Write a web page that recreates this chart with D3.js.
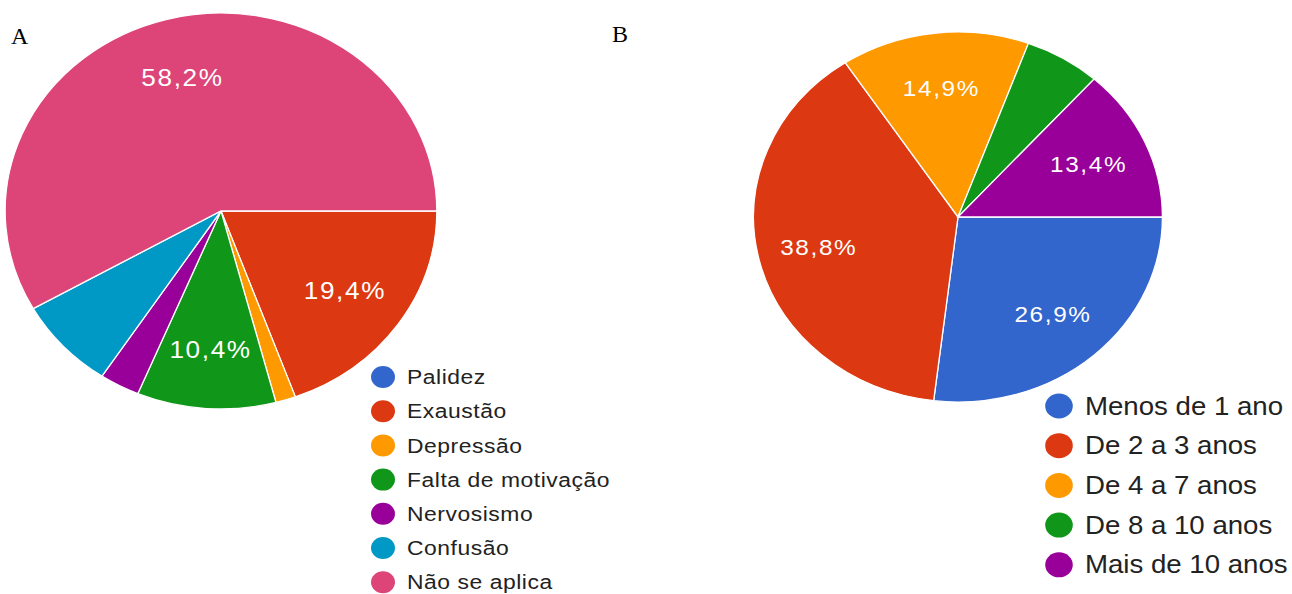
<!DOCTYPE html>
<html>
<head>
<meta charset="utf-8">
<script src="https://cdn.jsdelivr.net/npm/d3@7"></script>
<style>
  body { margin: 0; background: #fff; }
</style>
</head>
<body>
<div id="chart-area"></div>
<script>
// chart A - sintomas
var labelsA = ["Palidez", "Exaustão", "Depressão", "Falta de motivação", "Nervosismo", "Confusão", "Não se aplica"];
var valuesA = [0, 19.4, 1.5, 10.4, 3.0, 7.5, 58.2];

// chart B - tempo
var labelsB = ["Menos de 1 ano", "De 2 a 3 anos", "De 4 a 7 anos", "De 8 a 10 anos", "Mais de 10 anos"];
var valuesB = [26.9, 38.8, 14.9, 6.0, 13.4];

var colors = ["#3366cc", "#dc3912", "#ff9900", "#109618", "#990099", "#0099c6", "#dd4477"];

var svg = d3.select("#chart-area")
  .append("svg")
  .attr("width", 1292)
  .attr("height", 594);

var fmt = d => d3.format(".1f")(d).replace(".", ",") + "%";

function drawPie(cfg) {
  var color = d3.scaleOrdinal()
    .domain(cfg.labels)
    .range(colors);

  var data = cfg.labels.map((l, i) => ({ label: l, value: cfg.values[i] }));

  var pie = d3.pie()
    .sort(null)
    .value(d => d.value)
    .startAngle(Math.PI / 2)
    .endAngle(Math.PI / 2 + 2 * Math.PI);

  var arcs = pie(data);

  var arc = d3.arc().innerRadius(0).outerRadius(cfg.r);
  var labelArc = d3.arc().innerRadius(cfg.r * 0.7).outerRadius(cfg.r * 0.7);

  var g = svg.append("g")
    .attr("transform", "translate(" + cfg.cx + "," + cfg.cy + ")");

  g.append("g")
    .attr("transform", "scale(" + cfg.sx + ",1)")
    .selectAll("path")
    .data(arcs.filter(d => d.value > 0))
    .enter()
    .append("path")
    .attr("d", arc)
    .attr("fill", d => color(d.data.label))
    .attr("stroke", "white")
    .attr("stroke-width", 1.3)
    .attr("vector-effect", "non-scaling-stroke");

  g.selectAll("text.pct")
    .data(arcs.filter(d => d.value >= 10))
    .enter()
    .append("text")
    .attr("class", "pct")
    .attr("transform", d => {
      var c = labelArc.centroid(d);
      return "translate(" + (c[0] * cfg.sx) + "," + c[1] + ") scale(" + cfg.sx + ",1)";
    })
    .attr("dy", "0.36em")
    .attr("text-anchor", "middle")
    .attr("font-family", "Liberation Sans, Arial, sans-serif")
    .attr("font-size", cfg.pctSize + "px")
    .attr("letter-spacing", cfg.pctSpace)
    .attr("fill", "white")
    .text(d => fmt(d.value));

  var legend = svg.append("g")
    .attr("transform", "translate(" + cfg.lx + "," + cfg.ly + ")");

  var rows = legend.selectAll("g")
    .data(data)
    .enter()
    .append("g")
    .attr("transform", (d, i) => "translate(0," + (i * cfg.lstep) + ")");

  rows.append("ellipse")
    .attr("rx", cfg.dot * cfg.sx)
    .attr("ry", cfg.dot)
    .attr("fill", d => color(d.label));

  rows.append("text")
    .attr("transform", "translate(" + cfg.tx + ",0) scale(" + cfg.sx + ",1)")
    .attr("dy", "0.34em")
    .attr("font-family", "Liberation Sans, Arial, sans-serif")
    .attr("font-size", cfg.lsize + "px")
    .attr("letter-spacing", cfg.lspace)
    .attr("fill", "#222")
    .text(d => d.label);

  svg.append("text")
    .attr("x", cfg.titleX)
    .attr("y", cfg.titleY)
    .attr("font-family", "Liberation Serif, Times New Roman, serif")
    .attr("font-size", "24px")
    .attr("fill", "black")
    .text(cfg.title);
}

drawPie({
  labels: labelsA, values: valuesA, title: "A",
  cx: 221, cy: 211, r: 198, sx: 1.09,
  pctSize: 24, pctSpace: "1.5px",
  lx: 383, ly: 377, lstep: 34.2, dot: 11, tx: 24, lsize: 21, lspace: "0.5px",
  titleX: 11, titleY: 44
});

drawPie({
  labels: labelsB, values: valuesB, title: "B",
  cx: 958, cy: 217, r: 185, sx: 1.105,
  pctSize: 22, pctSpace: "1.5px",
  lx: 1059, ly: 406, lstep: 39.7, dot: 12.5, tx: 26, lsize: 25, lspace: "0px",
  titleX: 612, titleY: 42
});
</script>
</body>
</html>
